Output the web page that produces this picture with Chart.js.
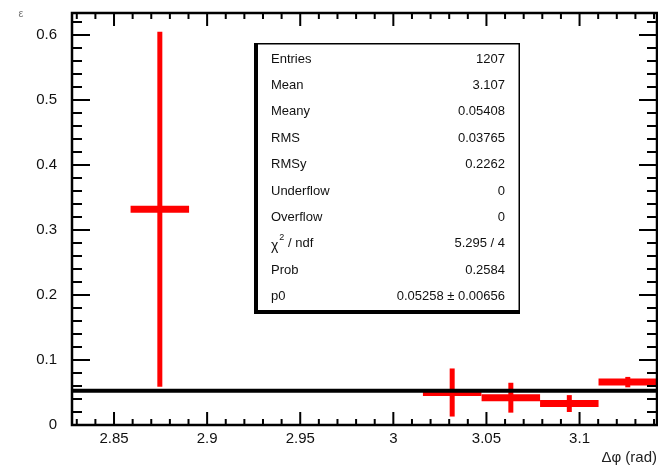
<!DOCTYPE html>
<html>
<head>
<meta charset="utf-8">
<script src="https://cdn.jsdelivr.net/npm/chart.js@4.4.1/dist/chart.umd.min.js"></script>
<style>
  html, body { margin: 0; padding: 0; background: #fff; }
  canvas { display: block; }
</style>
</head>
<body>
<canvas id="c" width="658" height="468"></canvas>
<script>
// Histogram bins (bin width pi/100), efficiency values and their errors
const binCenters = [2.8746, 3.0316, 3.0631, 3.0945, 3.1259];
const values     = [0.332, 0.050, 0.042, 0.033, 0.066];
const errors     = [0.273, 0.037, 0.023, 0.013, 0.008];
const binHalfWidth = Math.PI / 200;

// Constant fit p0
const fitValue = 0.05258;

// Axis ranges and ticks
const xRange = [0.9 * Math.PI, Math.PI];
const yRange = [0, 0.634];
const xTickValues = [2.85, 2.9, 2.95, 3.0, 3.05, 3.1];
const xTickLabels = ['2.85', '2.9', '2.95', '3', '3.05', '3.1'];
const yTickValues = [0, 0.1, 0.2, 0.3, 0.4, 0.5, 0.6];
const yTickLabels = ['0', '0.1', '0.2', '0.3', '0.4', '0.5', '0.6'];

// Statistics box rows
const statNames  = ['Entries', 'Mean', 'Meany', 'RMS', 'RMSy', 'Underflow', 'Overflow', 'CHI2', 'Prob', 'p0'];
const statValues = ['1207', '3.107', '0.05408', '0.03765', '0.2262', '0', '0', '5.295 / 4', '0.2584', '0.05258 \u00b1 0.00656'];

const FONT = '"Liberation Sans", Arial, Helvetica, sans-serif';

const errorBars = {
  id: 'errorBars',
  beforeDatasetsDraw(chart) {
    const { ctx, scales: { x, y }, chartArea } = chart;
    ctx.save();
    ctx.beginPath();
    ctx.rect(chartArea.left, chartArea.top, chartArea.right - chartArea.left, chartArea.bottom - chartArea.top);
    ctx.clip();
    ctx.strokeStyle = '#ff0000';
    ctx.lineCap = 'butt';
    binCenters.forEach((c, i) => {
      const px = x.getPixelForValue(c);
      const py = y.getPixelForValue(values[i]);
      // vertical error
      ctx.lineWidth = 5;
      ctx.beginPath();
      ctx.moveTo(px, y.getPixelForValue(values[i] + errors[i]));
      ctx.lineTo(px, y.getPixelForValue(values[i] - errors[i]));
      ctx.stroke();
      // bin width
      ctx.lineWidth = 7;
      ctx.beginPath();
      ctx.moveTo(x.getPixelForValue(c - binHalfWidth), py);
      ctx.lineTo(x.getPixelForValue(c + binHalfWidth), py);
      ctx.stroke();
    });
    ctx.restore();
  }
};

const frameAndTicks = {
  id: 'frameAndTicks',
  afterDatasetsDraw(chart) {
    const { ctx, scales: { x, y }, chartArea: a } = chart;
    ctx.save();
    ctx.strokeStyle = '#000';
    ctx.lineCap = 'butt';
    // x ticks: minor every 0.01, major every 0.05 (bottom and top)
    ctx.lineWidth = 2;
    for (let k = 283; k <= 314; k++) {
      const v = k / 100;
      if (v < xRange[0] || v > xRange[1]) continue;
      const px = x.getPixelForValue(v);
      const major = k % 5 === 0;
      const len = major ? 13 : 6;
      ctx.beginPath();
      ctx.moveTo(px, a.bottom); ctx.lineTo(px, a.bottom - len);
      ctx.moveTo(px, a.top); ctx.lineTo(px, a.top + len);
      ctx.stroke();
    }
    // y ticks: minor every 0.02, major every 0.1 (left and right)
    for (let k = 0; k <= 31; k++) {
      const v = k * 0.02;
      if (v > yRange[1]) continue;
      const py = y.getPixelForValue(v);
      const major = k % 5 === 0;
      const len = major ? 18 : 10;
      ctx.beginPath();
      ctx.moveTo(a.left, py); ctx.lineTo(a.left + len, py);
      ctx.moveTo(a.right, py); ctx.lineTo(a.right - len, py);
      ctx.stroke();
    }
    // frame
    ctx.lineWidth = 2.5;
    ctx.strokeRect(a.left, a.top, a.right - a.left, a.bottom - a.top);
    ctx.restore();
  },
  afterDraw(chart) {
    const { ctx, chartArea: a } = chart;
    ctx.save();
    // axis titles
    ctx.fillStyle = '#222';
    ctx.font = '15px ' + FONT;
    ctx.textAlign = 'right';
    ctx.textBaseline = 'middle';
    ctx.fillText('\u0394\u03c6 (rad)', a.right, 458);
    ctx.fillStyle = '#777';
    ctx.font = '11px ' + FONT;
    ctx.textAlign = 'center';
    ctx.fillText('\u03b5', 21, 14);

    // statistics box
    const bx = 254, by = 43, bw = 266, bh = 271;
    ctx.fillStyle = '#fff';
    ctx.fillRect(bx, by, bw, bh);
    ctx.strokeStyle = '#000';
    ctx.lineWidth = 1.5;
    ctx.strokeRect(bx + 0.75, by + 0.75, bw - 1.5, bh - 1.5);
    ctx.fillStyle = '#000';
    ctx.fillRect(bx, by, 4, bh);
    ctx.fillRect(bx, by + bh - 4, bw, 4);

    ctx.fillStyle = '#111';
    ctx.font = '13px ' + FONT;
    ctx.textBaseline = 'middle';
    const row0 = 59, step = 26.4;
    statNames.forEach((name, i) => {
      const ty = row0 + i * step;
      ctx.textAlign = 'left';
      if (name === 'CHI2') {
        ctx.font = '14px ' + FONT;
        ctx.fillText('\u03c7', 271, ty + 2);
        const w = ctx.measureText('\u03c7').width;
        ctx.font = '9px ' + FONT;
        ctx.fillText('2', 271 + w + 1, ty - 6);
        ctx.font = '13px ' + FONT;
        ctx.fillText(' / ndf', 271 + w + 6, ty);
      } else {
        ctx.fillText(name, 271, ty);
      }
      ctx.textAlign = 'right';
      ctx.fillText(statValues[i], 505, ty);
    });
    ctx.restore();
  }
};

new Chart(document.getElementById('c'), {
  type: 'scatter',
  data: {
    datasets: [{
      type: 'line',
      data: [{ x: xRange[0], y: fitValue }, { x: xRange[1], y: fitValue }],
      borderColor: '#000',
      borderWidth: 4,
      pointRadius: 0,
      fill: false
    }]
  },
  options: {
    responsive: false,
    animation: false,
    layout: { padding: { top: 13, right: 1, left: 0, bottom: 0 } },
    plugins: { legend: { display: false }, tooltip: { enabled: false } },
    scales: {
      x: {
        type: 'linear',
        min: xRange[0],
        max: xRange[1],
        grid: { display: false, drawTicks: false },
        border: { display: false },
        afterBuildTicks(s) { s.ticks = xTickValues.map(v => ({ value: v })); },
        afterFit(s) { s.height = 43; s.paddingLeft = 0; s.paddingRight = 0; },
        ticks: {
          padding: 5,
          maxRotation: 0,
          autoSkip: false,
          color: '#111',
          font: { family: FONT, size: 15 },
          callback: (v) => { const i = xTickValues.findIndex(t => Math.abs(t - v) < 1e-9); return i >= 0 ? xTickLabels[i] : ''; }
        }
      },
      y: {
        type: 'linear',
        min: yRange[0],
        max: yRange[1],
        grid: { display: false, drawTicks: false },
        border: { display: false },
        afterBuildTicks(s) { s.ticks = yTickValues.map(v => ({ value: v })); },
        afterFit(s) { s.width = 72; s.paddingTop = 0; s.paddingBottom = 0; },
        ticks: {
          padding: 15,
          autoSkip: false,
          color: '#111',
          font: { family: FONT, size: 15 },
          callback: (v) => { const i = yTickValues.findIndex(t => Math.abs(t - v) < 1e-9); return i >= 0 ? yTickLabels[i] : ''; }
        }
      }
    }
  },
  plugins: [errorBars, frameAndTicks]
});
</script>
</body>
</html>
